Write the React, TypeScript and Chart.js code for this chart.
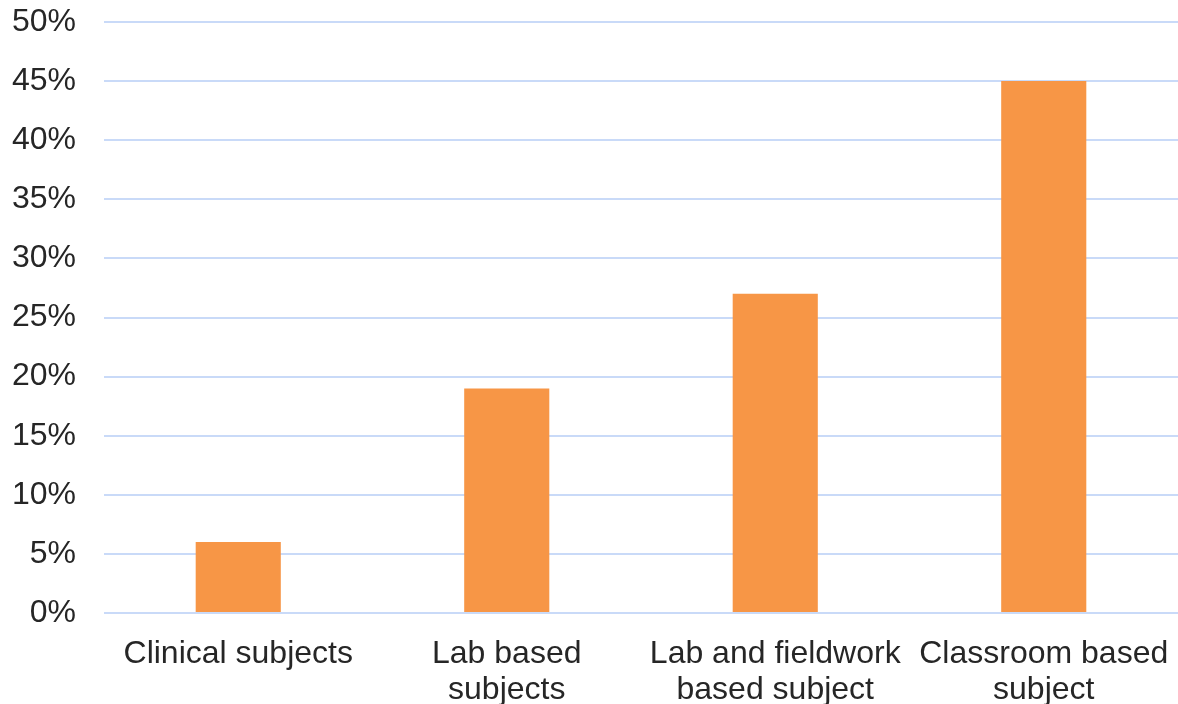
import React, { useEffect, useRef } from "react";
import { Chart, registerables } from "chart.js";

Chart.register(...registerables);

const categories: string[][] = [
  ["Clinical subjects"],
  ["Lab based", "subjects"],
  ["Lab and fieldwork", "based subject"],
  ["Classroom based", "subject"],
];
const values: number[] = [6, 19, 27, 45];

export default function App() {
  const ref = useRef<HTMLCanvasElement>(null);
  useEffect(() => {
    document.body.style.margin = "0";
    const font = { family: "'Liberation Sans', Arial, sans-serif", size: 32, lineHeight: 1.12 };
    const chart = new Chart(ref.current!, {
      type: "bar",
      data: {
        labels: categories,
        datasets: [
          {
            data: values,
            backgroundColor: "#F79646",
            barPercentage: 0.317,
            categoryPercentage: 1,
          },
        ],
      },
      options: {
        animation: false,
        responsive: false,
        maintainAspectRatio: false,
        layout: { padding: { left: 12, right: 0, top: 0, bottom: 0 } },
        plugins: { legend: { display: false }, tooltip: { enabled: false } },
        scales: {
          x: {
            grid: { display: false },
            border: { display: false },
            ticks: { color: "#262626", font, padding: 15, maxRotation: 0, autoSkip: false },
            afterFit: (axis: any) => {
              axis.paddingLeft = 0;
              axis.paddingRight = 0;
              axis.height = 91;
            },
          },
          y: {
            min: 0,
            max: 50,
            grid: { color: "#C9DAF8", lineWidth: 2, drawTicks: false },
            border: { display: false },
            ticks: {
              stepSize: 5,
              color: "#262626",
              font,
              padding: 28,
              callback: (v: any) => v + "%",
            },
            afterFit: (axis: any) => {
              axis.width = 92;
              axis.paddingTop = 22;
              axis.paddingBottom = 0;
            },
          },
        },
      },
    });
    return () => chart.destroy();
  }, []);
  return (
    <div style={{ position: "absolute", left: 0, top: 0, width: 1178, height: 704 }}>
      <canvas ref={ref} width={1178} height={704} style={{ width: 1178, height: 704 }} />
    </div>
  );
}
